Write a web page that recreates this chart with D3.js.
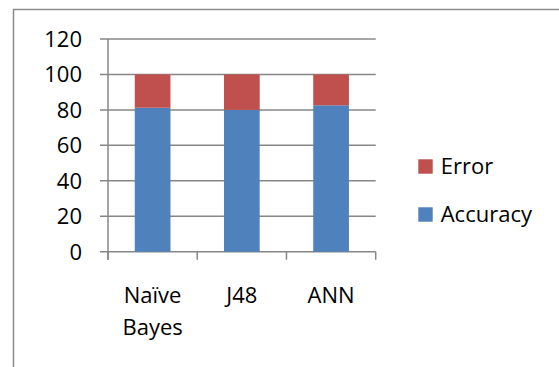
<!DOCTYPE html>
<html>
<head>
<meta charset="utf-8">
<script src="https://cdn.jsdelivr.net/npm/d3@7"></script>
<style>
  body { margin: 0; background: #fff; }
  svg { display: block; font-family: "Open Sans", sans-serif; }
</style>
</head>
<body>
<div id="chart"></div>
<script>
// data
var categories = ["Naïve Bayes", "J48", "ANN"];
var accuracy = [81.2, 80.0, 82.6];
var error = [18.8, 20.0, 17.4];
var seriesNames = ["Accuracy", "Error"];
var seriesColors = ["#4F81BD", "#C0504D"];
var yTicks = [0, 20, 40, 60, 80, 100, 120];

var width = 559, height = 367;
var svg = d3.select("#chart").append("svg").attr("width", width).attr("height", height);

// outer frame
svg.append("rect")
    .attr("x", 13.5).attr("y", 9.5)
    .attr("width", 600).attr("height", 400)
    .attr("fill", "none").attr("stroke", "#8c8c8c").attr("stroke-width", 1.5);

var plot = { left: 108, right: 375.7, top: 39, bottom: 251.7 };

var x = d3.scaleBand().domain(categories).range([plot.left, plot.right]).paddingInner(0.6).paddingOuter(0.3);
var y = d3.scaleLinear().domain([0, 120]).range([plot.bottom, plot.top]);

// gridlines
svg.append("g").selectAll("line").data(yTicks).enter().append("line")
    .attr("x1", plot.left - 8).attr("x2", plot.right)
    .attr("y1", function(d) { return y(d); }).attr("y2", function(d) { return y(d); })
    .attr("stroke", "#878787").attr("stroke-width", 1.5);

// y labels
svg.append("g").selectAll("text").data(yTicks).enter().append("text")
    .attr("x", 82).attr("y", function(d) { return y(d); })
    .attr("dy", "0.36em")
    .attr("text-anchor", "end")
    .attr("font-size", "22px").attr("fill", "#000")
    .text(function(d) { return d; });

// y axis line
svg.append("line")
    .attr("x1", plot.left).attr("x2", plot.left)
    .attr("y1", plot.top).attr("y2", plot.bottom + 8)
    .attr("stroke", "#878787").attr("stroke-width", 1.5);

// x tick marks at band boundaries
var bw = (plot.right - plot.left) / categories.length;
var xTickPos = d3.range(categories.length + 1).map(function(i) { return plot.left + i * bw; });
svg.append("g").selectAll("line").data(xTickPos).enter().append("line")
    .attr("x1", function(d) { return d; }).attr("x2", function(d) { return d; })
    .attr("y1", plot.bottom).attr("y2", plot.bottom + 8)
    .attr("stroke", "#878787").attr("stroke-width", 1.5);

// stacked bars
var rows = categories.map(function(c, i) { return { cat: c, Accuracy: accuracy[i], Error: error[i] }; });
var stack = d3.stack().keys(seriesNames)(rows);

svg.append("g").selectAll("g").data(stack).enter().append("g")
    .attr("fill", function(d, i) { return seriesColors[i]; })
    .selectAll("rect").data(function(d) { return d; }).enter().append("rect")
    .attr("x", function(d) { return x(d.data.cat); })
    .attr("width", x.bandwidth())
    .attr("y", function(d) { return y(d[1]); })
    .attr("height", function(d) { return y(d[0]) - y(d[1]); });

// category labels (wrapped)
svg.append("g").selectAll("text").data(categories).enter().append("text")
    .attr("x", function(d) { return x(d) + x.bandwidth() / 2; })
    .attr("y", 303)
    .attr("text-anchor", "middle")
    .attr("font-size", "22px").attr("fill", "#000")
    .each(function(d) {
        var words = d.split(" ");
        var t = d3.select(this);
        words.forEach(function(w, i) {
            t.append("tspan")
                .attr("x", x(d) + x.bandwidth() / 2)
                .attr("dy", i === 0 ? 0 : 32)
                .text(w);
        });
    });

// legend (Error on top)
var legendOrder = [1, 0];
var legend = svg.append("g").selectAll("g").data(legendOrder).enter().append("g")
    .attr("transform", function(d, i) { return "translate(418.3," + (159.3 + i * 48) + ")"; });
legend.append("rect").attr("width", 14.4).attr("height", 14.4)
    .attr("fill", function(d) { return seriesColors[d]; });
legend.append("text").attr("x", 22.4).attr("y", 14.6)
    .attr("font-size", "22px").attr("fill", "#000")
    .text(function(d) { return seriesNames[d]; });
</script>
</body>
</html>
